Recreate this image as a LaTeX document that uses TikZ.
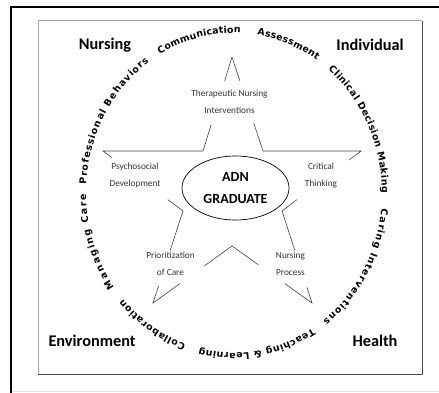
\documentclass[tikz,border=0pt]{standalone}
\usepackage{fontspec}
\setmainfont{Carlito}
\newfontfamily\arcfont{DejaVu Sans}
\newcommand\ringfont{\arcfont\bfseries\fontsize{9.4}{10}\selectfont}
\usetikzlibrary{decorations.text,calc,shapes.geometric}
\newcommand\arcphrase[3]{%
  \path[font=\ringfont, decorate, decoration={text effects along path, text={#3},
     text effects/.cd, characters={font=\ringfont, inner sep=0pt}, text along path, fit text to path}]
    (O) ++(#1:148pt and 160pt)
    arc[start angle=#1, end angle=#2, x radius=148pt, y radius=160pt];}
\begin{document}
\begin{tikzpicture}[x=1pt,y=-1pt,
  starline/.style={draw=black!75,line width=0.6pt},
  lbl/.style={font=\fontsize{9.3}{17}\selectfont,text=black!80,align=center,inner sep=0pt},
  corner/.style={font=\fontsize{16.3}{19}\selectfont\bfseries,inner sep=0pt}
]
\useasboundingbox (0,0) rectangle (439,393);
% frames
\draw[line width=1.7pt] (11.2,393) -- (11.2,6.7) -- (439,6.7);
\draw[black!12, line width=1pt] (12,391.3) -- (439,391.3);
\draw[gray!70, line width=0.8pt] (38.3,374.7) -- (38.3,20.7) -- (422.3,20.7);
\draw[black!70, line width=1.2pt] (422.3,20.7) -- (422.3,374.7) -- (38.3,374.7);
% star vertices
\coordinate (T) at (232,57);
\coordinate (UL) at (203,151);
\coordinate (UR) at (263,151);
\coordinate (LT) at (103,151);
\coordinate (RT) at (361,151);
\coordinate (IL) at (183,211);
\coordinate (IR) at (282,211);
\coordinate (BL) at (153,303);
\coordinate (BR) at (312,303);
\coordinate (IB) at (232,246);
\draw[starline] (T) -- ($(T)!0.255!(UL)$);
\draw[starline] ($(T)!0.72!(UL)$) -- (UL) -- (LT) -- ($(LT)!0.11!(IL)$);
\draw[starline] ($(LT)!0.81!(IL)$) -- (IL) -- ($(IL)!0.43!(BL)$);
\draw[starline] ($(IL)!0.815!(BL)$) -- (BL) -- ($(BL)!0.34!(IB)$);
\draw[starline] ($(BL)!0.65!(IB)$) -- (IB) -- ($(IB)!0.33!(BR)$);
\draw[starline] ($(IB)!0.66!(BR)$) -- (BR) -- ($(BR)!0.17!(IR)$);
\draw[starline] ($(IR)!0.43!(BR)$) -- (IR) -- ($(RT)!0.81!(IR)$);
\draw[starline] ($(RT)!0.15!(IR)$) -- (RT) -- (UR) -- ($(T)!0.70!(UR)$);
\draw[starline] ($(T)!0.255!(UR)$) -- (T);
% centre
\node[ellipse, draw, line width=0.7pt, minimum width=107pt, minimum height=64pt, inner sep=0pt,
  align=center, font=\fontsize{14}{22}\selectfont\bfseries] (adn) at (235.5,188) {ADN\\GRADUATE};
% star labels
\node[lbl] (ther) at (229.5,101.5) {Therapeutic Nursing\\Interventions};
\node[lbl] (psy) at (135,175.5) {Psychosocial\\Development};
\node[lbl] (crit) at (321,175.5) {Critical\\Thinking};
\node[lbl] (prio) at (170.5,263.5) {Prioritization\\of Care};
\node[lbl] (nproc) at (290.5,263.5) {Nursing\\Process};
% corners
\node[corner] (nur) at (105,45) {Nursing};
\node[corner] (ind) at (370,45) {Individual};
\node[corner] (env) at (92,341) {Environment};
\node[corner] (hea) at (375,341) {Health};
% ring text
\coordinate (O) at (234,193);
\arcphrase{177}{125}{Professional Behaviors}
\arcphrase{120}{87.5}{Communication}
\arcphrase{81}{56}{Assessment}
\arcphrase{50.5}{0}{Clinical Decision Making}
\arcphrase{-5.6}{-53}{Caring Interventions}
\arcphrase{-58}{-103.6}{Teaching {\&} Learning}
\arcphrase{-109}{-138.5}{Collaboration}
\arcphrase{-144}{-179.6}{Managing Care}
\end{tikzpicture}
\end{document}
